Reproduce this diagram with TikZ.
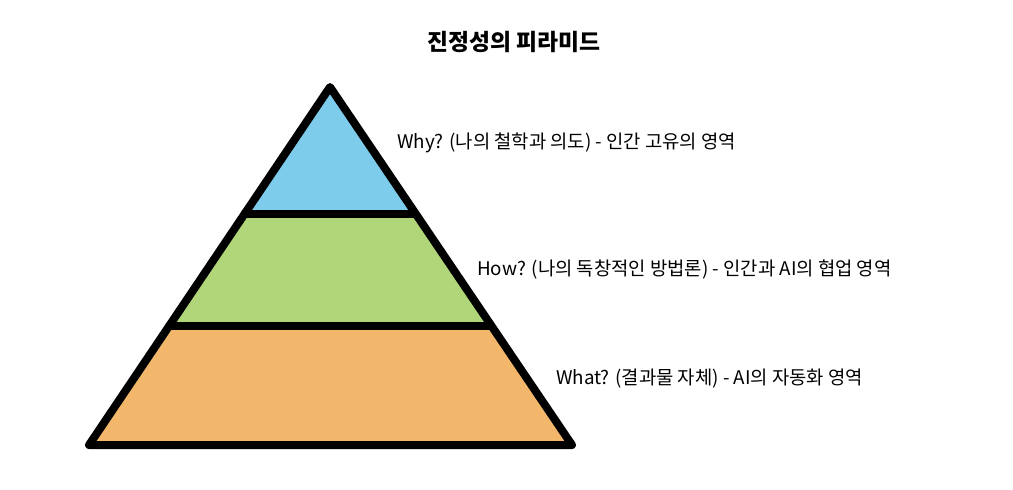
\documentclass[tikz,border=0pt]{standalone}
\usepackage{fontspec}
\setmainfont{Noto Sans CJK KR}
\definecolor{topblue}{RGB}{126,204,236}
\definecolor{midgreen}{RGB}{177,214,122}
\definecolor{botorange}{RGB}{242,183,106}
\tikzset{
  outline/.style={draw=black, line width=8pt, line join=round, line cap=round},
  lbl/.style={anchor=base west, inner sep=0pt, font=\fontsize{18.8}{22}\selectfont},
  ttl/.style={anchor=center, inner sep=0pt, font=\fontsize{22.8}{26}\selectfont\bfseries}
}
\begin{document}
\begin{tikzpicture}[x=1pt,y=-1pt]
\useasboundingbox[fill=white] (0,0) rectangle (1013,490);
\coordinate (apex) at (330,87);
\coordinate (bl) at (89,445);
\coordinate (br) at (572,445);
\coordinate (l1) at (244.5,213.5);
\coordinate (r1) at (415.5,213.5);
\coordinate (l2) at (169,325.5);
\coordinate (r2) at (491,325.5);
\fill[topblue] (apex) -- (r1) -- (l1) -- cycle;
\fill[midgreen] (l1) -- (r1) -- (r2) -- (l2) -- cycle;
\fill[botorange] (l2) -- (r2) -- (br) -- (bl) -- cycle;
\draw[outline] (apex) -- (br) -- (bl) -- cycle;
\draw[outline] (l1) -- (r1);
\draw[outline] (l2) -- (r2);
\node[ttl] (title) at (514,41.5) {진정성의 피라미드};
\node[lbl] (why) at (397,148) {Why? (나의 철학과 의도) - 인간 고유의 영역};
\node[lbl] (how) at (477,275) {How? (나의 독창적인 방법론) - 인간과 AI의 협업 영역};
\node[lbl] (what) at (556,384) {What? (결과물 자체) - AI의 자동화 영역};
\end{tikzpicture}
\end{document}
